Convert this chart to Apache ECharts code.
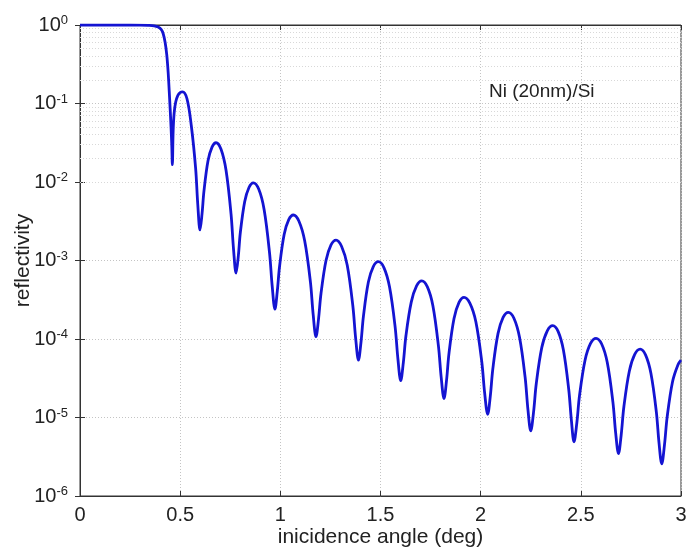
<!DOCTYPE html>
<html>
<head>
<meta charset="utf-8">
<script src="https://cdn.jsdelivr.net/npm/echarts@6/dist/echarts.min.js"></script>
<style>
html,body{margin:0;padding:0;background:#fff;}
#chart{width:689px;height:548px;}
</style>
</head>
<body>
<div id="chart"></div>
<script>
// incidence angle (deg)
const angle = [
  0, 0.1, 0.2, 0.3, 0.34, 0.37, 0.39, 0.405, 0.415, 0.425, 0.433, 0.44, 0.447, 0.453, 0.458,
  0.461, 0.465, 0.47, 0.478, 0.488, 0.5, 0.512, 0.534, 0.5555, 0.577, 0.588,
  0.599, 0.609, 0.619, 0.639, 0.659, 0.679, 0.704, 0.729, 0.754, 0.7665,
  0.779, 0.79, 0.8005, 0.822, 0.8435, 0.865, 0.892, 0.919, 0.946, 0.9595,
  0.973, 0.9845, 0.996, 1.019, 1.042, 1.065, 1.093, 1.1215, 1.15, 1.164,
  1.178, 1.1905, 1.203, 1.228, 1.253, 1.278, 1.306, 1.334, 1.362, 1.376,
  1.39, 1.4025, 1.415, 1.4395, 1.464, 1.489, 1.517, 1.545, 1.573, 1.587,
  1.601, 1.614, 1.627, 1.6535, 1.68, 1.706, 1.734, 1.7615, 1.789, 1.803,
  1.817, 1.8295, 1.842, 1.867, 1.892, 1.917, 1.9465, 1.976, 2.0055, 2.02,
  2.035, 2.048, 2.061, 2.0865, 2.112, 2.138, 2.166, 2.194, 2.222, 2.236,
  2.25, 2.264, 2.2775, 2.305, 2.3325, 2.36, 2.3865, 2.413, 2.4395, 2.453,
  2.466, 2.48, 2.4935, 2.521, 2.5485, 2.576, 2.604, 2.632, 2.66, 2.674,
  2.688, 2.7015, 2.715, 2.742, 2.769, 2.796, 2.823, 2.85, 2.877, 2.8905,
  2.904, 2.9175, 2.931, 2.958, 2.985, 3.0
];
// reflectivity
const reflectivity = [
  1, 1, 1, 0.998, 0.99, 0.975, 0.94, 0.88, 0.78, 0.6, 0.42, 0.25, 0.12, 0.06, 0.03,
  1.66e-2, 4.47e-2, 7.59e-2, 0.105, 0.126, 0.138, 0.141, 0.115, 5.25e-2, 1.51e-2, 5.13e-3,
  2.45e-3, 3.89e-3, 7.76e-3, 1.86e-2, 2.78e-2, 3.16e-2, 2.61e-2, 1.41e-2, 3.89e-3, 1.38e-3,
  6.92e-4, 1.12e-3, 2.29e-3, 5.62e-3, 8.51e-3, 9.77e-3, 8.13e-3, 4.47e-3, 1.26e-3, 4.68e-4,
  2.40e-4, 3.98e-4, 8.32e-4, 2.14e-3, 3.31e-3, 3.80e-3, 3.16e-3, 1.78e-3, 5.37e-4, 2.04e-4,
  1.07e-4, 1.78e-4, 3.80e-4, 1.00e-3, 1.58e-3, 1.82e-3, 1.51e-3, 8.71e-4, 2.63e-4, 1.02e-4,
  5.37e-5, 9.02e-5, 1.97e-4, 5.31e-4, 8.36e-4, 9.66e-4, 8.13e-4, 4.62e-4, 1.43e-4, 5.56e-5,
  2.95e-5, 5.01e-5, 1.10e-4, 2.95e-4, 4.74e-4, 5.50e-4, 4.62e-4, 2.66e-4, 8.22e-5, 3.24e-5,
  1.74e-5, 2.95e-5, 6.61e-5, 1.82e-4, 2.92e-4, 3.39e-4, 2.85e-4, 1.66e-4, 5.13e-5, 2.04e-5,
  1.10e-5, 1.86e-5, 4.22e-5, 1.17e-4, 1.88e-4, 2.19e-4, 1.84e-4, 1.05e-4, 3.24e-5, 1.26e-5,
  6.76e-6, 1.17e-5, 2.69e-5, 7.76e-5, 1.27e-4, 1.48e-4, 1.25e-4, 7.24e-5, 2.29e-5, 9.12e-6,
  4.90e-6, 8.51e-6, 1.91e-5, 5.37e-5, 8.79e-5, 1.02e-4, 8.63e-5, 5.01e-5, 1.58e-5, 6.31e-6,
  3.47e-6, 6.03e-6, 1.38e-5, 3.89e-5, 6.35e-5, 7.41e-5, 6.27e-5, 3.63e-5, 1.17e-5, 4.68e-6,
  2.57e-6, 4.47e-6, 1.02e-5, 2.88e-5, 4.71e-5, 5.37e-5
];
const xTicks = ['0', '0.5', '1', '1.5', '2', '2.5', '3'];
const yDecades = [-6, -5, -4, -3, -2, -1, 0];
const minorMultipliers = [2, 3, 4, 5, 6, 7, 8, 9];
const annotationText = 'Ni (20nm)/Si';
const xTitle = 'inicidence angle (deg)';
const yTitle = 'reflectivity';

const seriesData = angle.map((a, i) => [a, reflectivity[i]]);
const minorLines = [];
yDecades.slice(0, -1).forEach(d => {
  minorMultipliers.forEach(m => minorLines.push({ yAxis: m * Math.pow(10, d) }));
});

const FONT = '"Liberation Sans", Arial, Helvetica, sans-serif';
const chart = echarts.init(document.getElementById('chart'), null, { renderer: 'canvas' });

const tickStyle = { show: true, inside: true, length: 5, lineStyle: { color: '#333', width: 1 } };

chart.setOption({
  animation: false,
  backgroundColor: '#ffffff',
  grid: { left: 80, right: 8, top: 25, bottom: 52, containLabel: false, outerBoundsMode: 'none',
    show: true, borderColor: '#333', borderWidth: 1, backgroundColor: 'transparent' },
  xAxis: [{
    type: 'value', min: 0, max: 3, interval: 0.5,
    name: xTitle, nameLocation: 'middle', nameGap: 31, nameMoveOverlap: false,
    nameTextStyle: { fontFamily: FONT, fontSize: 21, color: '#222' },
    axisLine: { show: true, onZero: false, lineStyle: { color: '#333', width: 1 } },
    axisTick: tickStyle,
    axisLabel: { fontFamily: FONT, fontSize: 20, color: '#222', margin: 9,
      formatter: (v) => xTicks[Math.round(v / 0.5)] },
    splitLine: { show: true, lineStyle: { color: '#c4c4c4', type: [1, 2], width: 1 } }
  }, {
    type: 'value', min: 0, max: 3, interval: 0.5, position: 'top',
    axisLine: { show: true, lineStyle: { color: '#333' } },
    axisTick: tickStyle, axisLabel: { show: false }, splitLine: { show: false }
  }],
  yAxis: [{
    type: 'log', logBase: 10, min: 1e-6, max: 1, interval: 1,
    name: yTitle, nameLocation: 'middle', nameGap: 46, nameRotate: 90, nameMoveOverlap: false,
    nameTextStyle: { fontFamily: FONT, fontSize: 21, color: '#222' },
    axisLine: { show: true, onZero: false, lineStyle: { color: '#333', width: 1 } },
    axisTick: tickStyle,
    axisLabel: {
      margin: 12,
      formatter: (v) => '{b|10}{e|' + Math.round(Math.log10(v)) + '}',
      rich: {
        b: { fontFamily: FONT, fontSize: 20, color: '#222', lineHeight: 22 },
        e: { fontFamily: FONT, fontSize: 13, color: '#222', lineHeight: 13, verticalAlign: 'top' }
      }
    },
    splitLine: { show: true, lineStyle: { color: '#c4c4c4', type: [1, 2], width: 1 } }
  }, {
    type: 'log', logBase: 10, min: 1e-6, max: 1, interval: 1, position: 'right',
    axisLine: { show: true, lineStyle: { color: '#333' } },
    axisTick: tickStyle, axisLabel: { show: false }, splitLine: { show: false }
  }],
  graphic: [{
    type: 'text', left: 489, top: 82,
    style: { text: annotationText, font: '19px ' + FONT, fill: '#222' }
  }],
  series: [{
    type: 'line',
    xAxisIndex: 0, yAxisIndex: 0,
    data: seriesData,
    showSymbol: false,
    symbol: 'none',
    smooth: 0.35,
    lineStyle: { color: '#1414d2', width: 2.8 },
    z: 5,
    markLine: {
      silent: true, symbol: 'none', animation: false,
      label: { show: false },
      lineStyle: { color: '#d8d8d8', type: [1, 2], width: 1 },
      data: minorLines
    }
  }]
});
</script>
</body>
</html>
